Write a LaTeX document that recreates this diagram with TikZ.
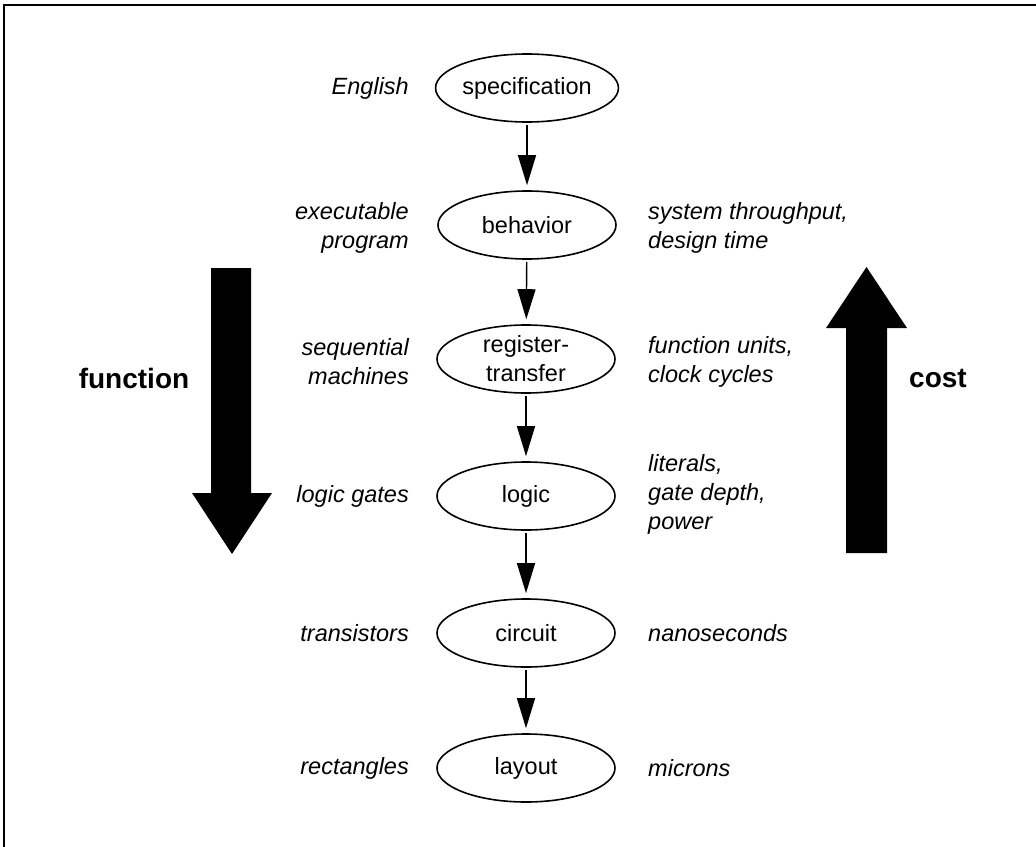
\documentclass[tikz,border=0pt]{standalone}
\usepackage{fontspec}
\setmainfont{Liberation Sans}
\usetikzlibrary{arrows.meta,shapes.geometric}

\begin{document}
\begin{tikzpicture}[x=1pt,y=-1pt,
  level/.style={draw, ellipse, line width=1.6pt, minimum width=178pt,
    minimum height=68pt, inner sep=0pt, align=center,
    font=\fontsize{23.5}{29}\selectfont},
  leftnote/.style={anchor=east, inner sep=0pt, align=right,
    font=\fontsize{23.5}{29}\selectfont\itshape},
  rightnote/.style={anchor=west, inner sep=0pt, align=left,
    font=\fontsize{23.5}{29}\selectfont\itshape},
  bigword/.style={inner sep=0pt, font=\fontsize{28}{32}\selectfont\bfseries},
  flow/.style={line width=1.4pt, -{Triangle[length=30pt,width=18pt]},
    shorten >=5pt, shorten <=2pt},
  bigarrow/.style={fill=black, draw=none}]

\useasboundingbox (0,0) rectangle (1036,846);

% frame along the left and top edges
\draw[line width=1.5pt] (4,860) -- (4,5) -- (1050,5);

% abstraction levels
\node[level] (spec)  at (527,88)  {specification};
\node[level] (behav) at (527,225) {behavior};
\node[level] (rtl)   at (526,359) {register-\\transfer};
\node[level] (logic) at (526,496) {logic};
\node[level] (circ)  at (526,633) {circuit};
\node[level] (lay)   at (526,768) {layout};

\draw[flow] (spec)  -- (behav);
\draw[flow] (behav) -- (rtl);
\draw[flow] (rtl)   -- (logic);
\draw[flow] (logic) -- (circ);
\draw[flow] (circ)  -- (lay);

% representation of each level
\node[leftnote] (l1) at (409,88)  {English};
\node[leftnote] (l2) at (409,228) {executable\\program};
\node[leftnote] (l3) at (409,362) {sequential\\machines};
\node[leftnote] (l4) at (409,496) {logic gates};
\node[leftnote] (l5) at (409,633) {transistors};
\node[leftnote] (l6) at (409,768) {rectangles};

% cost measures of each level
\node[rightnote] (r2) at (648,228) {system throughput,\\design time};
\node[rightnote] (r3) at (648,362) {function units,\\clock cycles};
\node[rightnote] (r4) at (648,494) {literals,\\gate depth,\\power};
\node[rightnote] (r5) at (648,633) {nanoseconds};
\node[rightnote] (r6) at (648,768) {microns};

% big direction arrows
\fill[bigarrow] (211,268) -- (251,268) -- (251,493) -- (272,493)
  -- (232,554) -- (192,493) -- (211,493) -- cycle;
\node[bigword] (fn) at (134,378) {function};

\fill[bigarrow] (846,553) -- (887,553) -- (887,328) -- (907,328)
  -- (866.5,267) -- (826,328) -- (846,328) -- cycle;
\node[bigword] (cost) at (938,378) {cost};
\end{tikzpicture}
\end{document}
